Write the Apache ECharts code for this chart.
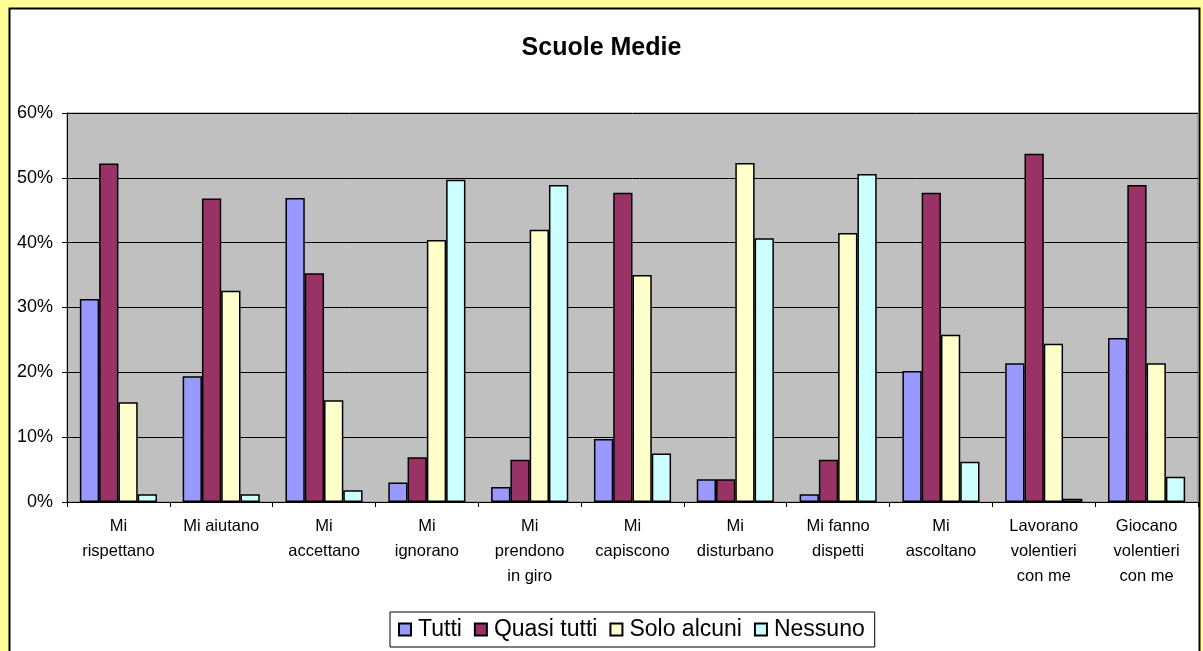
<!DOCTYPE html>
<html>
<head>
<meta charset="utf-8">
<script src="https://cdn.jsdelivr.net/npm/echarts@6/dist/echarts.min.js"></script>
<style>
html,body{margin:0;padding:0;background:#FFFF99;}
#chart{width:1203px;height:651px;}
</style>
</head>
<body>
<div id="chart"></div>
<script>
const categories = ['Mi\nrispettano','Mi aiutano','Mi\naccettano','Mi\nignorano','Mi\nprendono\nin giro','Mi\ncapiscono','Mi\ndisturbano','Mi fanno\ndispetti','Mi\nascoltano','Lavorano\nvolentieri\ncon me','Giocano\nvolentieri\ncon me'];
const seriesNames = ['Tutti','Quasi tutti','Solo alcuni','Nessuno'];
const tutti      = [31.3, 19.4, 46.9, 3.0, 2.3, 9.7, 3.5, 1.2, 20.2, 21.4, 25.3];
const quasiTutti = [52.2, 46.8, 35.3, 6.9, 6.5, 47.7, 3.5, 6.5, 47.7, 53.7, 48.9];
const soloAlcuni = [15.4, 32.6, 15.7, 40.4, 42.0, 35.0, 52.3, 41.5, 25.8, 24.4, 21.4];
const nessuno    = [1.2, 1.2, 1.8, 49.7, 48.9, 7.5, 40.7, 50.6, 6.2, 0.5, 3.9];
const yTicks = [0, 10, 20, 30, 40, 50, 60];
const colors = ['#9999FF','#993366','#FFFFCC','#CCFFFF'];
const values = [tutti, quasiTutti, soloAlcuni, nessuno];

const font = 'Liberation Sans, Arial, sans-serif';
const chart = echarts.init(document.getElementById('chart'));
chart.setOption({
  backgroundColor: '#FFFF99',
  animation: false,
  textStyle: { fontFamily: font },
  graphic: [{
    type: 'rect', z: -10, silent: true,
    shape: { x: 9.5, y: 8.5, width: 1190, height: 700 },
    style: { fill: '#FFFFFF', stroke: '#000000', lineWidth: 2 }
  }],
  title: {
    text: 'Scuole Medie', left: 'center', top: 31,
    textStyle: { fontFamily: font, fontSize: 25, fontWeight: 'bold', color: '#000' }
  },
  legend: {
    left: 390, top: 612,
    data: seriesNames,
    icon: 'rect',
    itemWidth: 12, itemHeight: 12, itemGap: 12,
    borderColor: '#000', borderWidth: 1,
    padding: [6, 10, 6, 8],
    textStyle: { fontFamily: font, fontSize: 23, color: '#000', padding: [0, 0, 0, 2] }
  },
  grid: {
    left: 67, top: 113, right: 5, bottom: 149,
    show: true, backgroundColor: '#C0C0C0', borderColor: '#808080', borderWidth: 1
  },
  xAxis: {
    type: 'category',
    data: categories,
    axisLine: { lineStyle: { color: '#000', width: 1 } },
    axisTick: { show: true, length: 5, lineStyle: { color: '#000' }, alignWithLabel: false },
    axisLabel: {
      interval: 0, margin: 12, color: '#000', fontFamily: font, fontSize: 16.5, lineHeight: 25
    }
  },
  yAxis: {
    type: 'value', min: yTicks[0], max: yTicks[yTicks.length - 1], interval: 10,
    axisLine: { show: true, lineStyle: { color: '#000' } },
    axisTick: { show: true, length: 5, lineStyle: { color: '#000' } },
    axisLabel: { formatter: '{value}%', color: '#000', fontFamily: font, fontSize: 18, margin: 14 },
    splitLine: { lineStyle: { color: '#000', width: 1 } }
  },
  series: seriesNames.map((name, i) => ({
    name: name,
    type: 'bar',
    data: values[i],
    barGap: '0%',
    barCategoryGap: '25%',
    itemStyle: { color: colors[i], borderColor: '#000', borderWidth: 1.5 }
  }))
});
</script>
</body>
</html>
